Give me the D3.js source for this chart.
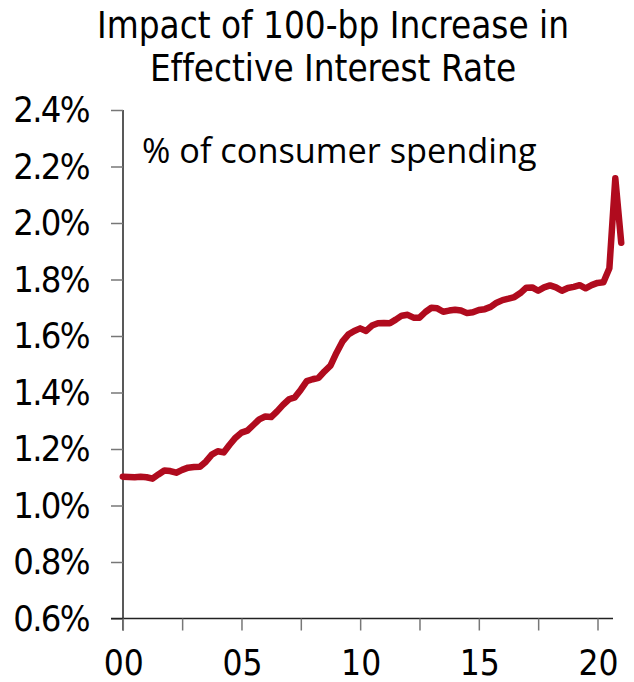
<!DOCTYPE html>
<html>
<head>
<meta charset="utf-8">
<script src="https://cdn.jsdelivr.net/npm/d3@7"></script>
<style>
  body { margin: 0; background: #fff; }
  svg { display: block; }
  text { font-variant-ligatures: none; }
</style>
</head>
<body>
<svg id="chart" width="634" height="682"></svg>
<script>
// quarterly readings, index 0 = first quarter of 2000
var values = [
  1.102, 1.101, 1.100, 1.102, 1.100, 1.095, 1.110, 1.124, 1.122, 1.116,
  1.126, 1.134, 1.136, 1.137, 1.155, 1.180, 1.192, 1.188, 1.215, 1.240,
  1.258, 1.265, 1.285, 1.305, 1.315, 1.313, 1.333, 1.356, 1.376, 1.383,
  1.410, 1.440, 1.447, 1.452, 1.475, 1.495, 1.540, 1.580, 1.605, 1.618,
  1.627, 1.618, 1.637, 1.645, 1.646, 1.645, 1.658, 1.672, 1.675, 1.665,
  1.665, 1.685, 1.700, 1.698, 1.686, 1.690, 1.693, 1.690, 1.681, 1.684,
  1.692, 1.695, 1.703, 1.718, 1.727, 1.732, 1.738, 1.752, 1.771, 1.772,
  1.760, 1.772, 1.779, 1.772, 1.760, 1.770, 1.774, 1.780, 1.769, 1.780,
  1.788, 1.790, 1.840, 2.158, 1.930
];
var yTicks = [0.6, 0.8, 1.0, 1.2, 1.4, 1.6, 1.8, 2.0, 2.2, 2.4];
var xTicks = [0, 10, 20, 30, 40, 50, 60, 70, 80];
var xLabels = [
  {i: 0, label: "00"}, {i: 20, label: "05"}, {i: 40, label: "10"},
  {i: 60, label: "15"}, {i: 80, label: "20"}
];
var titleLines = ["Impact of 100-bp Increase in", "Effective Interest Rate"];
var subtitle = "% of consumer spending";

var svg = d3.select("#chart");
var tickFont = "'DejaVu Sans Condensed', 'DejaVu Sans', sans-serif";

var x = d3.scaleLinear().domain([0, 80]).range([122.8, 597.5]);
var y = d3.scaleLinear().domain([0.6, 2.4]).range([618.5, 110]);

// title
svg.append("g").selectAll("text")
  .data(titleLines)
  .join("text")
  .attr("x", 333)
  .attr("y", function(d, i) { return 38 + i * 43; })
  .attr("text-anchor", "middle")
  .style("font-family", tickFont)
  .style("font-size", "36.5px")
  .attr("fill", "#000")
  .text(function(d) { return d; });

svg.append("text")
  .attr("x", 142)
  .attr("y", 163)
  .style("font-family", "'Open Sans', sans-serif")
  .style("font-size", "34.3px")
  .attr("fill", "#000")
  .text(subtitle);

// y axis
var yAxis = d3.axisLeft(y)
  .tickValues(yTicks)
  .tickSize(12)
  .tickPadding(22)
  .tickFormat(function(d) { return d.toFixed(1) + "%"; });

var gy = svg.append("g")
  .attr("transform", "translate(123,0)")
  .call(yAxis);
gy.select(".domain").attr("stroke", "#222").attr("stroke-width", 1.5)
  .attr("d", "M0," + y(2.4) + "V" + (y(0.6) + 12));
gy.selectAll(".tick line").attr("stroke", "#777").attr("stroke-width", 1.5);
gy.selectAll(".tick text")
  .style("font-family", tickFont)
  .style("font-size", "36px")
  .style("letter-spacing", "-1.6px")
  .attr("fill", "#000");

// x axis
var xAxis = d3.axisBottom(x)
  .tickValues(xTicks)
  .tickSize(12)
  .tickFormat("");

var gx = svg.append("g")
  .attr("transform", "translate(0," + y(0.6) + ")")
  .call(xAxis);
gx.select(".domain").attr("stroke", "#222").attr("stroke-width", 1.5)
  .attr("d", "M111,0H613");
gx.selectAll(".tick line").attr("stroke", "#777").attr("stroke-width", 1.5);

svg.append("g").selectAll("text")
  .data(xLabels)
  .join("text")
  .attr("x", function(d) { return x(d.i) + 1; })
  .attr("y", 675)
  .attr("text-anchor", "middle")
  .style("font-family", tickFont)
  .style("font-size", "35px")
  .attr("fill", "#000")
  .text(function(d) { return d.label; });

// series
var line = d3.line()
  .x(function(d, i) { return x(i); })
  .y(function(d) { return y(d); });

svg.append("path")
  .datum(values)
  .attr("fill", "none")
  .attr("stroke", "#B00B1E")
  .attr("stroke-width", 6.5)
  .attr("stroke-linejoin", "round")
  .attr("stroke-linecap", "round")
  .attr("d", line);
</script>
</body>
</html>
